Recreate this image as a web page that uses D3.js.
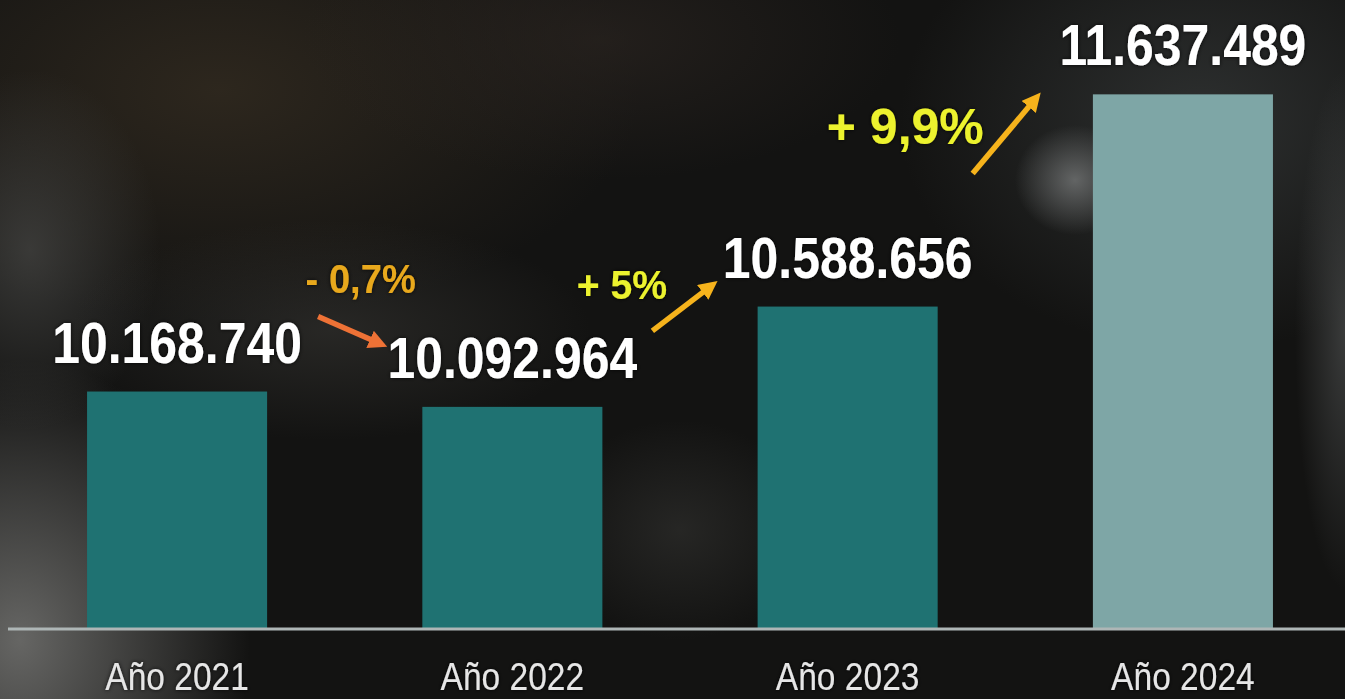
<!DOCTYPE html>
<html>
<head>
<meta charset="utf-8">
<script src="https://cdn.jsdelivr.net/npm/d3@7"></script>
<style>
  html, body { margin: 0; padding: 0; background: #141414; overflow: hidden; }
  svg { display: block; }
  .axis text { font-family: "Liberation Sans", Arial, sans-serif; fill: #e6e6e6; }
</style>
</head>
<body>
<div id="chart"></div>
<script>
// data
const years = ["Año 2021", "Año 2022", "Año 2023", "Año 2024"];
const totals = [10168740, 10092964, 10588656, 11637489];
const valueLabels = ["10.168.740", "10.092.964", "10.588.656", "11.637.489"];
const changeLabels = ["- 0,7%", "+ 5%", "+ 9,9%"];
const changeDirection = ["down", "up", "up"];

const width = 1345;
const height = 699;
const margin = { top: 21, right: 5, bottom: 71, left: 20 };
const labelGap = 29;

// hand-placed annotation layout: x offsets from the gap edges,
// y offsets from the value-label baselines of the two bars
const arrowLayout = [
  { x0: 51, y0: -46, x1: -42, y1: -34 },
  { x0: 50, y0: -47, x1: -46, y1: 8 },
  { x0: 35, y0: -104, x1: -57, y1: 33 },
];
const changeLayout = [
  { dx: 16, dy: -70, size: 41, color: "#e8a81f", squeeze: 0.93 },
  { dx: -58, dy: -79, size: 40, color: "#ecf22e", squeeze: 0.98 },
  { dx: -110, dy: -134, size: 50, color: "#ecf22e", squeeze: 1 },
];

const svg = d3
  .select("#chart")
  .append("svg")
  .attr("width", width)
  .attr("height", height)
  .attr("viewBox", [0, 0, width, height]);

const defs = svg.append("defs");
defs
  .append("filter")
  .attr("id", "halo")
  .attr("x", "-5%").attr("y", "-8%").attr("width", "110%").attr("height", "116%")
  .append("feDropShadow")
  .attr("dx", 0).attr("dy", 0).attr("stdDeviation", 2)
  .attr("flood-color", "#000").attr("flood-opacity", 0.8);

// --- blurred photo-like background, soft radial blobs
const blobs = [
  { cx: 220, cy: 90, rx: 420, ry: 230, fill: "#30291f", o: 0.9 },
  { cx: 600, cy: 40, rx: 300, ry: 140, fill: "#2a2420", o: 0.7 },
  { cx: 1200, cy: 120, rx: 300, ry: 230, fill: "#343737", o: 0.8 },
  { cx: 1075, cy: 180, rx: 60, ry: 55, fill: "#6a6c6c", o: 0.9 },
  { cx: 1345, cy: 330, rx: 50, ry: 260, fill: "#4a4c4c", o: 0.7 },
  { cx: 20, cy: 640, rx: 230, ry: 280, fill: "#6a6a68", o: 0.95 },
  { cx: 30, cy: 250, rx: 130, ry: 180, fill: "#424240", o: 0.8 },
  { cx: 330, cy: 330, rx: 260, ry: 110, fill: "#363532", o: 0.6 },
  { cx: 680, cy: 530, rx: 130, ry: 110, fill: "#333331", o: 0.6 },
];
blobs.forEach((b, i) => {
  const g = defs.append("radialGradient").attr("id", `blob${i}`);
  g.append("stop").attr("offset", "0%").attr("stop-color", b.fill).attr("stop-opacity", b.o);
  g.append("stop").attr("offset", "55%").attr("stop-color", b.fill).attr("stop-opacity", b.o * 0.45);
  g.append("stop").attr("offset", "100%").attr("stop-color", b.fill).attr("stop-opacity", 0);
});

const bg = svg.append("g").attr("class", "bg");
bg.append("rect").attr("width", width).attr("height", height).attr("fill", "#131312");
bg.selectAll("ellipse")
  .data(blobs)
  .join("ellipse")
  .attr("cx", (d) => d.cx)
  .attr("cy", (d) => d.cy)
  .attr("rx", (d) => d.rx)
  .attr("ry", (d) => d.ry)
  .attr("fill", (d, i) => `url(#blob${i})`);

// --- scales
const x = d3
  .scaleBand()
  .domain(years)
  .range([margin.left, width - margin.right])
  .paddingInner(0.463)
  .paddingOuter(0.2);

const y = d3
  .scaleLinear()
  .domain([9000000, 12000000])
  .range([height - margin.bottom, margin.top]);

const rows = years.map((yr, i) => ({ year: yr, value: totals[i], label: valueLabels[i], i }));
const baseline = (i) => y(totals[i]) - labelGap;

// bars
svg
  .append("g")
  .attr("class", "bars")
  .selectAll("rect")
  .data(rows)
  .join("rect")
  .attr("x", (d) => x(d.year))
  .attr("width", x.bandwidth())
  .attr("y", (d) => y(d.value))
  .attr("height", (d) => y.range()[0] - y(d.value))
  .attr("fill", (d) => (d.i === rows.length - 1 ? "#7ea6a6" : "#1f7272"));

// x axis with year labels
const gx = svg
  .append("g")
  .attr("class", "axis")
  .attr("transform", `translate(0,${y.range()[0]})`)
  .call(d3.axisBottom(x).tickSize(0))
  .call((g) => g.select(".domain").remove());
gx.selectAll(".tick text")
  .attr("y", 62)
  .attr("dy", 0)
  .attr("font-size", 39)
  .attr("filter", "url(#halo)")
  .each(function () {
    const n = this.getComputedTextLength();
    d3.select(this).attr("textLength", n * 0.86).attr("lengthAdjust", "spacingAndGlyphs");
  });

svg
  .append("line")
  .attr("x1", 8)
  .attr("x2", width)
  .attr("y1", y.range()[0] + 1)
  .attr("y2", y.range()[0] + 1)
  .attr("stroke", "#aeb6b6")
  .attr("stroke-width", 3);

// value labels
svg
  .append("g")
  .attr("class", "values")
  .selectAll("text")
  .data(rows)
  .join("text")
  .attr("x", (d) => x(d.year) + x.bandwidth() / 2)
  .attr("y", (d) => baseline(d.i))
  .attr("text-anchor", "middle")
  .attr("font-family", "'Liberation Sans', Arial, sans-serif")
  .attr("font-weight", "bold")
  .attr("font-size", 58)
  .attr("fill", "#ffffff")
  .attr("filter", "url(#halo)")
  .text((d) => d.label)
  .each(function () {
    const n = this.getComputedTextLength();
    d3.select(this).attr("textLength", n * 0.86).attr("lengthAdjust", "spacingAndGlyphs");
  });

// change arrows
const arrowColor = (i) => (changeDirection[i] === "down" ? "#ee7236" : "#f6b31c");
changeLabels.forEach((c, i) => {
  defs
    .append("marker")
    .attr("id", `head${i}`)
    .attr("viewBox", "0 0 10 10")
    .attr("refX", 6)
    .attr("refY", 5)
    .attr("markerWidth", 3.4)
    .attr("markerHeight", 3.4)
    .attr("orient", "auto")
    .append("path")
    .attr("d", "M0,0 L10,5 L0,10 Z")
    .attr("fill", arrowColor(i));
});

const gapLeft = (i) => x(years[i]) + x.bandwidth();
const gapRight = (i) => x(years[i + 1]);

const arrows = arrowLayout.map((a, i) => ({
  i,
  x1: gapLeft(i) + a.x0,
  y1: baseline(i) + a.y0,
  x2: gapRight(i) + a.x1,
  y2: baseline(i + 1) + a.y1,
}));

svg
  .append("g")
  .attr("class", "arrows")
  .selectAll("line")
  .data(arrows)
  .join("line")
  .attr("x1", (d) => d.x1)
  .attr("y1", (d) => d.y1)
  .attr("x2", (d) => d.x2)
  .attr("y2", (d) => d.y2)
  .attr("stroke", (d) => arrowColor(d.i))
  .attr("stroke-width", 5.5)
  .attr("marker-end", (d) => `url(#head${d.i})`);

// change labels
svg
  .append("g")
  .attr("class", "changes")
  .selectAll("text")
  .data(changeLabels)
  .join("text")
  .attr("x", (d, i) => (gapLeft(i) + gapRight(i)) / 2 + changeLayout[i].dx)
  .attr("y", (d, i) => baseline(i) + changeLayout[i].dy)
  .attr("text-anchor", "middle")
  .attr("font-family", "'Liberation Sans', Arial, sans-serif")
  .attr("font-weight", "bold")
  .attr("font-size", (d, i) => changeLayout[i].size)
  .attr("fill", (d, i) => changeLayout[i].color)
  .attr("filter", "url(#halo)")
  .text((d) => d)
  .each(function (d, i) {
    const n = this.getComputedTextLength();
    d3.select(this).attr("textLength", n * changeLayout[i].squeeze).attr("lengthAdjust", "spacingAndGlyphs");
  });
</script>
</body>
</html>
